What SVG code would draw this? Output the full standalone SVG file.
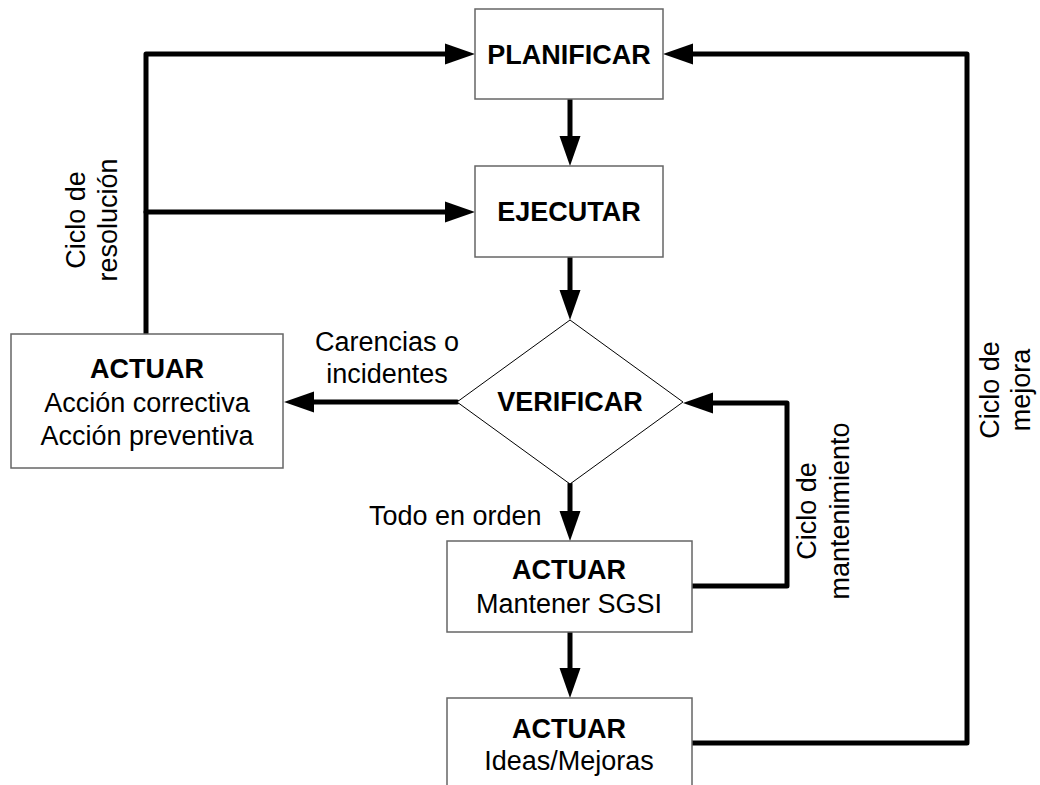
<svg xmlns="http://www.w3.org/2000/svg" width="1040" height="785" viewBox="0 0 1040 785">
  <style>
    .box { fill: #ffffff; stroke: #666666; stroke-width: 1.5; }
    .dia { fill: #ffffff; stroke: #000000; stroke-width: 1; }
    .t { font-family: "Liberation Sans", Arial, sans-serif; font-size: 27px; fill: #000000; }
    .b { font-weight: bold; }
    .c { text-anchor: middle; }
    .wire { fill: none; stroke: #000000; stroke-width: 5; stroke-linecap: round; stroke-linejoin: round; }
  </style>
  <defs>
    <!-- filled arrowhead, 30 long and 21 wide; the path stops at its base -->
    <marker id="arrow" markerUnits="userSpaceOnUse" markerWidth="31" markerHeight="22" refX="0" refY="10.5" orient="auto" overflow="visible">
      <path d="M0,0 L30,10.5 L0,21 Z" fill="#000000"/>
    </marker>
  </defs>
  <rect width="1040" height="785" fill="#ffffff"/>

  <!-- connectors -->
  <g id="connectors">
    <path class="wire" d="M570,99 V136" marker-end="url(#arrow)"/>
    <path class="wire" d="M570,257 V290" marker-end="url(#arrow)"/>
    <path class="wire" d="M570,484 V511" marker-end="url(#arrow)"/>
    <path class="wire" d="M570,632 V668" marker-end="url(#arrow)"/>
    <path class="wire" d="M457,402 H314" marker-end="url(#arrow)"/>
    <path class="wire" d="M146,334 V54 H445" marker-end="url(#arrow)"/>
    <path class="wire" d="M146,212 H445" marker-end="url(#arrow)"/>
    <path class="wire" d="M692,586 H787 V403 H713" marker-end="url(#arrow)"/>
    <path class="wire" d="M692,743 H967 V54 H693" marker-end="url(#arrow)"/>
  </g>

  <!-- connector labels -->
  <g id="labels">
    <text class="t c" transform="translate(85,220) rotate(-90)"><tspan x="0" y="0">Ciclo de</tspan><tspan x="0" y="32">resolución</tspan></text>
    <text class="t c"><tspan x="387" y="351">Carencias o</tspan><tspan x="387" y="383">incidentes</tspan></text>
    <text class="t" x="369" y="525">Todo en orden</text>
    <text class="t c" transform="translate(816,511) rotate(-90)"><tspan x="0" y="0">Ciclo de</tspan><tspan x="0" y="33">mantenimiento</tspan></text>
    <text class="t c" transform="translate(999,390) rotate(-90)"><tspan x="0" y="0">Ciclo de</tspan><tspan x="0" y="31">mejora</tspan></text>
  </g>

  <g id="planificar">
    <rect class="box" x="475" y="9" width="188" height="90"/>
    <text class="t b c" x="569" y="64">PLANIFICAR</text>
  </g>

  <g id="ejecutar">
    <rect class="box" x="475" y="166" width="188" height="91"/>
    <text class="t b c" x="569" y="221">EJECUTAR</text>
  </g>

  <g id="verificar">
    <polygon class="dia" points="570,320 683,402 570,484 457,402"/>
    <text class="t b c" x="570" y="411">VERIFICAR</text>
  </g>

  <g id="actuar-correctiva">
    <rect class="box" x="11" y="334" width="272" height="134"/>
    <text class="t b c" x="147" y="378">ACTUAR</text>
    <text class="t c" x="147" y="412">Acción correctiva</text>
    <text class="t c" x="147" y="445">Acción preventiva</text>
  </g>

  <g id="actuar-mantener">
    <rect class="box" x="447" y="541" width="245" height="91"/>
    <text class="t b c" x="569" y="579">ACTUAR</text>
    <text class="t c" x="569" y="613">Mantener SGSI</text>
  </g>

  <g id="actuar-mejoras">
    <rect class="box" x="447" y="698" width="245" height="91"/>
    <text class="t b c" x="569" y="738">ACTUAR</text>
    <text class="t c" x="569" y="770">Ideas/Mejoras</text>
  </g>
</svg>
